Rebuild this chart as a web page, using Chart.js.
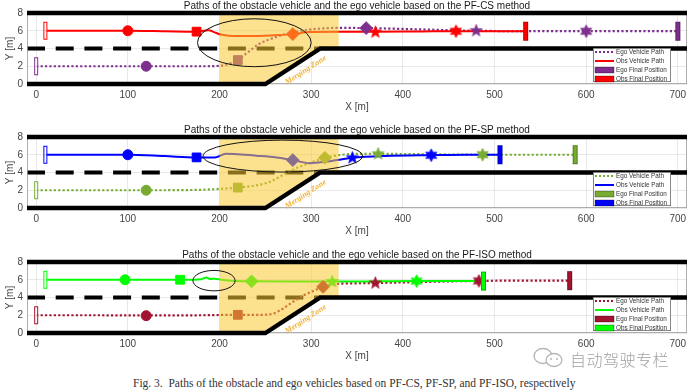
<!DOCTYPE html>
<html><head><meta charset="utf-8">
<script src="https://cdn.jsdelivr.net/npm/chart.js@4.4.1/dist/chart.umd.min.js"></script>
<style>
html,body{margin:0;padding:0;background:#fff}
body{width:692px;height:391px;overflow:hidden;position:relative}
canvas{position:absolute;left:0}
#c1{top:0}#c2{top:124px}#c3{top:249px}
#cap{position:absolute;left:133px;top:376px;font:11.5px "Liberation Serif",serif;color:#333;white-space:nowrap;line-height:14px}
#wm{position:absolute;left:570px;top:349px;font:300 16px "Noto Sans CJK SC",sans-serif;color:#a0a0a0;white-space:nowrap;line-height:20px;letter-spacing:0.5px}
#wmi{position:absolute;left:532px;top:346px}
</style></head><body>
<canvas id="c1" width="692" height="115"></canvas>
<canvas id="c2" width="692" height="115"></canvas>
<canvas id="c3" width="692" height="115"></canvas>
<svg id="wmi" width="36" height="24"><ellipse cx="11" cy="10" rx="9" ry="7.5" fill="none" stroke="#b5b5b5" stroke-width="1.3"/><ellipse cx="22" cy="14" rx="8" ry="6.5" fill="#fff" stroke="#b5b5b5" stroke-width="1.3"/><circle cx="19" cy="13" r="1" fill="#b5b5b5"/><circle cx="25" cy="13" r="1" fill="#b5b5b5"/></svg>
<div id="wm">自动驾驶专栏</div>
<div id="cap">Fig. 3.&nbsp; Paths of the obstacle and ego vehicles based on PF-CS, PF-SP, and PF-ISO, respectively</div>
<script>
// ---------- shared axes / scenery values ----------
const xTicks=[0,100,200,300,400,500,600,700];
const yTicks=[0,2,4,6,8];
const xRange=[-10,710];
const yRange=[0,8];
const zoneX=[200,330];
const laneX=[-10,310];
const laneY=4;
const roadTopY=8;
const roadEdgeX=[-10,250,310,710];
const roadEdgeY=[0,0,4,4];
const legendLabels=['Ego Vehicle Path','Obs Vehicle Path','Ego Final Position','Obs Final Position'];
const markerKinds=['startVehicle','circle','square','diamond','pentagram','hexagram','finalVehicle'];
const zoneLabel='Merging Zone';
const zoneLabelAt=[294,1.55];

// ---------- PF-CS ----------
const csTitle='Paths of the obstacle vehicle and the ego vehicle based on the PF-CS method';
const csEgoPathX=[0,60,120,180,200,210,220,230,243,255,268,280,300,330,360,420,480,540,600,650,700];
const csEgoPathY=[2,2,2,2,2.05,2.25,2.7,3.5,4.5,5.05,5.5,5.8,6.15,6.32,6.3,6.15,6.0,5.95,5.95,5.95,5.95];
const csObsPathX=[10,60,100,140,175,182,188,194,200,210,236,260,280,298,327,370,420,458,500,534];
const csObsPathY=[6,6,6,5.95,5.9,6.0,6.05,5.85,5.6,5.45,5.4,5.5,5.62,5.85,5.88,5.88,5.92,5.95,5.95,5.95];
const csEgoMarkX=[0,120,220,360,480,600,700];
const csEgoMarkY=[2,2,2.7,6.3,6.0,5.95,5.95];
const csObsMarkX=[10,100,175,280,370,458,534];
const csObsMarkY=[6,6,5.9,5.62,5.85,5.95,5.95];
const csEllipse=[238,4.65,62,2.7];

// ---------- PF-SP ----------
const spTitle='Paths of the obstacle vehicle and the ego vehicle based on the PF-SP method';
const spEgoPathX=[0,60,120,180,200,220,240,255,269,284,298,315,334,356,373,430,487,540,588];
const spEgoPathY=[2,2,2,2.05,2.15,2.3,2.55,2.95,3.7,4.5,5.05,5.65,6.0,6.1,6.1,6.05,6.0,6.0,6.0];
const spObsPathX=[10,60,100,140,175,195,207,220,240,262,280,298,316,334,345,380,431,470,506];
const spObsPathY=[6,6,6,5.85,5.7,5.7,6.1,6.05,5.9,5.7,5.4,5.05,5.2,5.5,5.65,5.85,5.95,6.0,6.0];
const spEgoMarkX=[0,120,220,315,373,487,588];
const spEgoMarkY=[2,2,2.3,5.65,6.1,6.0,6.0];
const spObsMarkX=[10,100,175,280,345,431,506];
const spObsMarkY=[6,6,5.7,5.4,5.65,5.95,6.0];
const spEllipse=[269,5.85,87,1.8];

// ---------- PF-ISO ----------
const isoTitle='Paths of the obstacle vehicle and the ego vehicle based on the PF-ISO method';
const isoEgoPathX=[0,60,120,180,220,244,258,269,280,291,302,313,331,350,370,420,483,530,582];
const isoEgoPathY=[2,2,1.98,2.0,2.05,2.05,2.17,2.74,3.5,4.2,4.72,5.2,5.55,5.6,5.63,5.75,5.87,5.9,5.9];
const isoObsPathX=[10,60,97,130,157,172,180,186,190,195,202,212,235,280,323,370,415,450,488];
const isoObsPathY=[6,6,6,6,6,6.0,6.05,6.25,6.08,6.12,6.0,5.9,5.82,5.8,5.8,5.82,5.85,5.85,5.85];
const isoEgoMarkX=[0,120,220,313,370,483,582];
const isoEgoMarkY=[2,1.95,2.05,5.2,5.63,5.87,5.9];
const isoObsMarkX=[10,97,157,235,323,415,488];
const isoObsMarkY=[6,6,6,5.82,5.8,5.85,5.85];
const isoEllipse=[194,5.9,23,1.15];

// ---------- styles ----------
const FONT='"Liberation Sans", Arial, sans-serif';
const colorsCS={ego:'#7E2F8E',obs:'#FF0000'};
const colorsSP={ego:'#77AC30',obs:'#0000FF'};
const colorsISO={ego:'#A2142F',obs:'#00FF00'};

function pts(xs,ys){return xs.map((x,i)=>({x:x,y:ys[i]}));}
function roadEdgeAt(v){
  for(let i=1;i<roadEdgeX.length;i++){
    if(v<=roadEdgeX[i]){const t=(v-roadEdgeX[i-1])/(roadEdgeX[i]-roadEdgeX[i-1]);return roadEdgeY[i-1]+t*(roadEdgeY[i]-roadEdgeY[i-1]);}
  }
  return roadEdgeY[roadEdgeY.length-1];
}
function vehicleImg(color,filled,w,h){
  const c=document.createElement('canvas');c.width=w+2;c.height=h+2;
  const g=c.getContext('2d');
  if(filled){g.fillStyle=color;g.fillRect(1,1,w,h);g.strokeStyle='rgba(0,0,0,0.35)';g.lineWidth=0.8;g.strokeRect(1.4,1.4,w-0.8,h-0.8);}
  else{g.fillStyle='rgba(255,255,255,0.7)';g.fillRect(1,1,w,h);g.strokeStyle=color;g.lineWidth=1;g.strokeRect(1.5,1.5,w-1,h-1);}
  return c;
}
function starImg(n,ro,ri,color){
  const s=Math.ceil(ro*2+2);const c=document.createElement('canvas');c.width=s;c.height=s;
  const g=c.getContext('2d');g.translate(s/2,s/2);g.beginPath();
  for(let i=0;i<2*n;i++){const r=i%2?ri:ro;const a=-Math.PI/2+i*Math.PI/n;g.lineTo(r*Math.cos(a),r*Math.sin(a));}
  g.closePath();g.fillStyle=color;g.fill();g.strokeStyle=color;g.lineWidth=0.6;g.stroke();return c;
}
function markerStyles(color){
  return markerKinds.map(k=>{
    switch(k){
      case 'startVehicle':return vehicleImg(color,false,4,18);
      case 'circle':return 'circle';
      case 'square':return 'rect';
      case 'diamond':return 'rectRot';
      case 'pentagram':return starImg(5,6.5,2.7,color);
      case 'hexagram':return starImg(6,6.5,3.6,color);
      default:return vehicleImg(color,true,5,19);
    }
  });
}
const markerRadius={startVehicle:3,circle:5,square:6.2,diamond:6.4,pentagram:3,hexagram:3,finalVehicle:3};

const sceneryPlugin={
  id:'scenery',
  beforeDatasetsDraw(chart){
    const {ctx,scales:{x,y}}=chart;
    ctx.save();
    ctx.strokeStyle='#000';ctx.lineWidth=4;ctx.setLineDash([18,10.7]);ctx.lineCap='butt';
    ctx.beginPath();ctx.moveTo(x.getPixelForValue(laneX[0]),y.getPixelForValue(laneY));
    ctx.lineTo(x.getPixelForValue(laneX[1]),y.getPixelForValue(laneY));ctx.stroke();
    ctx.restore();
  },
  afterDatasetsDraw(chart){
    const {ctx,chartArea:a,scales:{x,y}}=chart;
    const cfg=chart.options.plugins.scenery;
    ctx.save();
    // merging zone overlay (road area between zone bounds)
    ctx.fillStyle='rgba(249,200,50,0.55)';
    ctx.beginPath();
    ctx.moveTo(x.getPixelForValue(zoneX[0]),y.getPixelForValue(roadTopY));
    ctx.lineTo(x.getPixelForValue(zoneX[1]),y.getPixelForValue(roadTopY));
    ctx.lineTo(x.getPixelForValue(zoneX[1]),y.getPixelForValue(roadEdgeAt(zoneX[1])));
    for(let i=roadEdgeX.length-1;i>=0;i--){
      if(roadEdgeX[i]>zoneX[0]&&roadEdgeX[i]<zoneX[1])ctx.lineTo(x.getPixelForValue(roadEdgeX[i]),y.getPixelForValue(roadEdgeY[i]));
    }
    ctx.lineTo(x.getPixelForValue(zoneX[0]),y.getPixelForValue(roadEdgeAt(zoneX[0])));
    ctx.closePath();ctx.fill();
    // axes box
    ctx.strokeStyle='#9a9a9a';ctx.lineWidth=0.8;ctx.strokeRect(a.left+0.4,a.top+0.4,a.right-a.left-0.8,a.bottom-a.top-0.8);
    // road boundaries
    ctx.strokeStyle='#000';ctx.lineWidth=4.3;ctx.lineJoin='miter';ctx.lineCap='butt';
    ctx.beginPath();ctx.moveTo(x.getPixelForValue(xRange[0]),y.getPixelForValue(roadTopY));ctx.lineTo(x.getPixelForValue(xRange[1]),y.getPixelForValue(roadTopY));ctx.stroke();
    ctx.beginPath();
    roadEdgeX.forEach((v,i)=>{const px=x.getPixelForValue(v),py=y.getPixelForValue(roadEdgeY[i]);i?ctx.lineTo(px,py):ctx.moveTo(px,py);});
    ctx.stroke();
    // ellipse
    const e=cfg.ellipse;
    const cx=x.getPixelForValue(e[0]),cy=y.getPixelForValue(e[1]);
    const rx=Math.abs(x.getPixelForValue(e[0]+e[2])-cx),ry=Math.abs(y.getPixelForValue(e[1]+e[3])-cy);
    ctx.strokeStyle='#111';ctx.lineWidth=1;ctx.beginPath();ctx.ellipse(cx,cy,rx,ry,0,0,Math.PI*2);ctx.stroke();
    // merging zone label
    const ang=Math.atan2(y.getPixelForValue(roadEdgeY[2])-y.getPixelForValue(roadEdgeY[1]),x.getPixelForValue(roadEdgeX[2])-x.getPixelForValue(roadEdgeX[1]));
    ctx.save();ctx.translate(x.getPixelForValue(zoneLabelAt[0]),y.getPixelForValue(zoneLabelAt[1]));ctx.rotate(ang);
    ctx.font='italic bold 8px "Liberation Serif", serif';ctx.fillStyle='#F2B035';ctx.textAlign='center';ctx.textBaseline='middle';
    ctx.fillText(zoneLabel,0,0);ctx.restore();
    // legend
    const w=78,h=34,R=a.right-16,B=a.bottom-2,L=R-w,T=B-h;
    ctx.fillStyle='#fff';ctx.fillRect(L,T,w,h);
    ctx.strokeStyle='#6a6a6a';ctx.lineWidth=0.8;ctx.strokeRect(L+0.4,T+0.4,w-0.8,h-0.8);
    ctx.font='6.3px '+FONT;ctx.textBaseline='middle';ctx.textAlign='left';
    legendLabels.forEach((lab,i)=>{
      const yy=T+4+9*i;
      const col=(i%2===0)?cfg.colors.ego:cfg.colors.obs;
      if(i===0){ctx.strokeStyle=col;ctx.lineWidth=2;ctx.setLineDash([2,2]);ctx.beginPath();ctx.moveTo(L+2,yy);ctx.lineTo(L+21,yy);ctx.stroke();ctx.setLineDash([]);}
      else if(i===1){ctx.strokeStyle=col;ctx.lineWidth=2;ctx.beginPath();ctx.moveTo(L+2,yy);ctx.lineTo(L+21,yy);ctx.stroke();}
      else{ctx.fillStyle=col;ctx.fillRect(L+2,yy-3,19,6);ctx.strokeStyle='rgba(0,0,0,0.45)';ctx.lineWidth=0.7;ctx.strokeRect(L+2,yy-3,19,6);}
      ctx.fillStyle='#333';ctx.fillText(lab,L+23,yy+0.3);
    });
    // title
    ctx.font='10px '+FONT;ctx.fillStyle='#1a1a1a';ctx.textAlign='center';ctx.textBaseline='middle';
    ctx.fillText(cfg.title,(a.left+a.right)/2,a.top-7);
    ctx.restore();
  }
};

function makeChart(id,title,colors,egoPX,egoPY,obsPX,obsPY,egoMX,egoMY,obsMX,obsMY,ellipse){
  const radii=markerKinds.map(k=>markerRadius[k]);
  const markerSet=(label,xs,ys,color)=>({label:label,data:pts(xs,ys),showLine:false,
    pointStyle:markerStyles(color),pointRadius:radii,pointBackgroundColor:color,pointBorderColor:color,pointBorderWidth:1});
  const pathSet=(label,xs,ys,color,dashed)=>({label:label,data:pts(xs,ys),borderColor:color,borderWidth:dashed?2.2:2,
    borderDash:dashed?[2.2,2.2]:[],pointRadius:0,cubicInterpolationMode:'monotone',fill:false});
  return new Chart(document.getElementById(id),{
    type:'line',
    data:{datasets:[
      markerSet('Obs markers',obsMX,obsMY,colors.obs),
      markerSet('Ego markers',egoMX,egoMY,colors.ego),
      pathSet('Obs Vehicle Path',obsPX,obsPY,colors.obs,false),
      pathSet('Ego Vehicle Path',egoPX,egoPY,colors.ego,true)
    ]},
    options:{
      responsive:false,animation:false,devicePixelRatio:1,
      layout:{padding:{left:0,right:4,top:13,bottom:0}},
      plugins:{legend:{display:false},tooltip:{enabled:false},title:{display:false},
        scenery:{title:title,colors:colors,ellipse:ellipse}},
      scales:{
        x:{type:'linear',min:xRange[0],max:xRange[1],
          afterBuildTicks:s=>{s.ticks=xTicks.map(v=>({value:v}));},
          afterFit:s=>{s.height=31;},
          grid:{color:'rgba(0,0,0,0.11)',lineWidth:0.8,drawTicks:false},
          border:{display:false},
          ticks:{padding:5,color:'#444',font:{size:10,family:FONT},maxRotation:0,autoSkip:false},
          title:{display:true,text:'X [m]',color:'#444',font:{size:10,family:FONT},padding:{top:0,bottom:2}}},
        y:{type:'linear',min:yRange[0],max:yRange[1],
          afterBuildTicks:s=>{s.ticks=yTicks.map(v=>({value:v}));},
          afterFit:s=>{s.width=27;},
          grid:{color:'rgba(0,0,0,0.11)',lineWidth:0.8,drawTicks:false},
          border:{display:false},
          ticks:{padding:4,color:'#444',font:{size:10,family:FONT}},
          title:{display:true,text:'Y [m]',color:'#444',font:{size:10,family:FONT},padding:{top:4,bottom:0}}}
      }
    },
    plugins:[sceneryPlugin]
  });
}

makeChart('c1',csTitle,colorsCS,csEgoPathX,csEgoPathY,csObsPathX,csObsPathY,csEgoMarkX,csEgoMarkY,csObsMarkX,csObsMarkY,csEllipse);
makeChart('c2',spTitle,colorsSP,spEgoPathX,spEgoPathY,spObsPathX,spObsPathY,spEgoMarkX,spEgoMarkY,spObsMarkX,spObsMarkY,spEllipse);
makeChart('c3',isoTitle,colorsISO,isoEgoPathX,isoEgoPathY,isoObsPathX,isoObsPathY,isoEgoMarkX,isoEgoMarkY,isoObsMarkX,isoObsMarkY,isoEllipse);
</script>
</body></html>
